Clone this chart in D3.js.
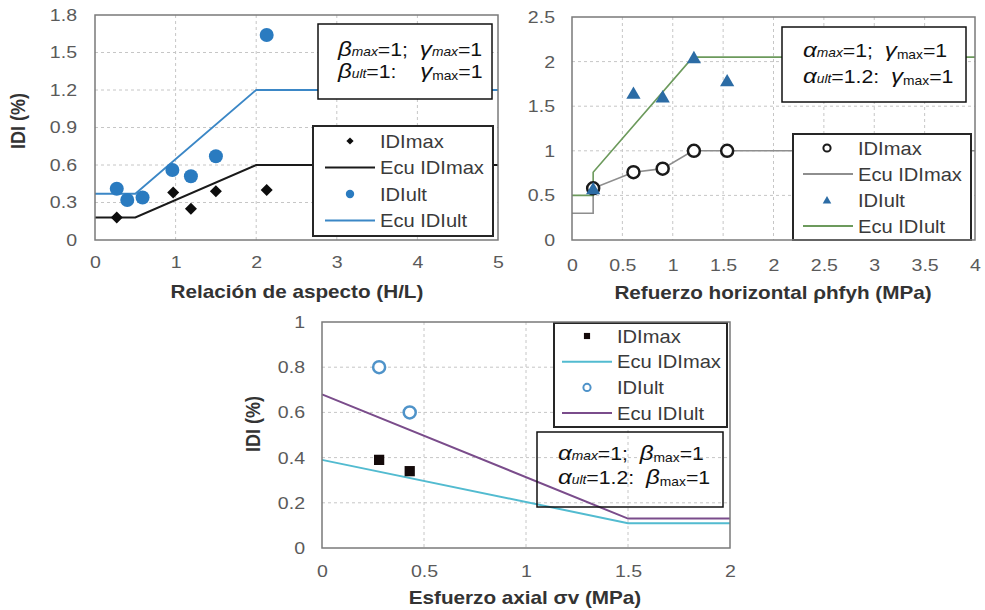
<!DOCTYPE html>
<html>
<head>
<meta charset="utf-8">
<script src="https://cdn.jsdelivr.net/npm/d3@7"></script>
<style>
  body { margin: 0; background: #fff; }
  text { font-family: Arial, "Liberation Sans", sans-serif; }
</style>
</head>
<body>
<svg id="chart"></svg>
<script>
const width = 985;
const height = 610;
const SX = 1.15; // source picture is a bit stretched sideways, so text is too

// --- panel 1: Relación de aspecto (H/L)
const aspXTicks = [0, 1, 2, 3, 4, 5];
const aspYTicks = [0, 0.3, 0.6, 0.9, 1.2, 1.5, 1.8];
const aspMaxX = [0.27, 0.97, 1.19, 1.50, 2.13];
const aspIDImax = [0.18, 0.38, 0.25, 0.39, 0.40];
const aspUltX = [0.27, 0.40, 0.59, 0.96, 1.19, 1.50, 2.13];
const aspIDIult = [0.41, 0.32, 0.34, 0.56, 0.51, 0.67, 1.64];
const aspEcuX = [0, 0.5, 2, 5];
const aspEcuMax = [0.18, 0.18, 0.6, 0.6];
const aspEcuUlt = [0.37, 0.37, 1.2, 1.2];

// --- panel 2: Refuerzo horizontal
const refXTicks = [0, 0.5, 1, 1.5, 2, 2.5, 3, 3.5, 4];
const refYTicks = [0, 0.5, 1, 1.5, 2, 2.5];
const refX = [0.21, 0.61, 0.90, 1.21, 1.54];
const refIDImax = [0.58, 0.76, 0.80, 1.00, 1.00];
const refIDIult = [0.57, 1.64, 1.60, 2.04, 1.78];
const refEcuMaxX = [0, 0.21, 0.21, 0.61, 0.90, 1.2, 4];
const refEcuMax = [0.3, 0.3, 0.58, 0.76, 0.80, 1.0, 1.0];
const refEcuUltX = [0, 0.21, 0.21, 1.2, 4];
const refEcuUlt = [0.5, 0.5, 0.76, 2.05, 2.05];

// --- panel 3: Esfuerzo axial
const axXTicks = [0, 0.5, 1, 1.5, 2];
const axYTicks = [0, 0.2, 0.4, 0.6, 0.8, 1];
const axX = [0.28, 0.43];
const axIDImax = [0.39, 0.34];
const axIDIult = [0.80, 0.60];
const axEcuX = [0, 1.5, 2];
const axEcuMax = [0.39, 0.11, 0.11];
const axEcuUlt = [0.68, 0.13, 0.13];

const legendLabels = ["IDImax", "Ecu IDImax", "IDIult", "Ecu IDIult"];

const svg = d3.select("#chart")
  .attr("width", width)
  .attr("height", height);

svg.append("rect").attr("width", width).attr("height", height).attr("fill", "#fff");

function panel(box, xTicks, yTicks, pad) {
  const x = d3.scaleLinear().domain(d3.extent(xTicks)).range([box.left, box.right]);
  const y = d3.scaleLinear().domain(d3.extent(yTicks)).range([box.bottom, box.top]);
  const g = svg.append("g");

  // dashed grid
  g.selectAll(".gx").data(xTicks.slice(1, -1)).join("line")
    .attr("x1", d => x(d)).attr("x2", d => x(d))
    .attr("y1", box.top).attr("y2", box.bottom)
    .attr("stroke", "#c6c6c6").attr("stroke-dasharray", "3,3");
  g.selectAll(".gy").data(yTicks.slice(1, -1)).join("line")
    .attr("y1", d => y(d)).attr("y2", d => y(d))
    .attr("x1", box.left).attr("x2", box.right)
    .attr("stroke", "#c6c6c6").attr("stroke-dasharray", "3,3");

  // axes (labels only, the frame is drawn later)
  g.append("g")
    .attr("transform", `translate(${box.left},0)`)
    .call(d3.axisLeft(y).tickValues(yTicks).tickSize(0).tickPadding(pad.y / SX).tickFormat(d => d))
    .call(a => a.select(".domain").remove())
    .attr("font-size", 17).attr("font-family", "Arial, 'Liberation Sans', sans-serif")
    .selectAll("text").attr("fill", "#5a5a5a").attr("transform", `scale(${SX},1)`);

  g.append("g")
    .attr("transform", `translate(0,${box.bottom})`)
    .call(d3.axisBottom(x).tickValues(xTicks).tickSize(0).tickPadding(pad.x).tickFormat(d => d))
    .call(a => a.select(".domain").remove())
    .attr("font-size", 17).attr("font-family", "Arial, 'Liberation Sans', sans-serif")
    .selectAll("text").attr("fill", "#5a5a5a").attr("transform", `scale(${SX},1)`);

  return {x, y, g, box};
}

function frame(p) {
  p.g.append("rect")
    .attr("x", p.box.left).attr("y", p.box.top)
    .attr("width", p.box.right - p.box.left).attr("height", p.box.bottom - p.box.top)
    .attr("fill", "none").attr("stroke", "#7a7a7a").attr("stroke-width", 1.5);
}

function curve(p, xs, ys, color, w) {
  p.g.append("path")
    .datum(ys)
    .attr("d", d3.line().x((d, i) => p.x(xs[i])).y(d => p.y(d)))
    .attr("fill", "none").attr("stroke", color).attr("stroke-width", w);
}

function marker(g, m, cx, cy, small) {
  const k = small ? 0.6 : 1;
  if (m.kind === "diamond") {
    g.append("path").attr("d", d3.symbol(d3.symbolSquare, 72 * k * k)())
      .attr("transform", `translate(${cx},${cy}) rotate(45)`).attr("fill", m.color);
  } else if (m.kind === "dot") {
    g.append("circle").attr("cx", cx).attr("cy", cy).attr("r", 7 * k).attr("fill", m.color);
  } else if (m.kind === "ring") {
    g.append("circle").attr("cx", cx).attr("cy", cy).attr("r", 6 * k)
      .attr("fill", "#fff").attr("stroke", m.color).attr("stroke-width", small ? 2 : 2.5);
  } else if (m.kind === "tri") {
    g.append("path").attr("d", d3.symbol(d3.symbolTriangle, 88 * k * k)())
      .attr("transform", `translate(${cx},${cy + 1})`).attr("fill", m.color);
  } else if (m.kind === "square") {
    g.append("path").attr("d", d3.symbol(d3.symbolSquare, 105 * k * k)())
      .attr("transform", `translate(${cx},${cy})`).attr("fill", m.color);
  }
}

function points(p, xs, ys, m) {
  ys.forEach((v, i) => marker(p.g, m, p.x(xs[i]), p.y(v), false));
}

function legend(p, lb, items) {
  p.g.append("rect")
    .attr("x", lb.x0).attr("y", lb.y0).attr("width", lb.x1 - lb.x0).attr("height", lb.y1 - lb.y0)
    .attr("fill", "#fff").attr("stroke", "#262626").attr("stroke-width", 2);
  items.forEach((it, i) => {
    const cy = lb.row0 + i * lb.step;
    if (it.line) {
      p.g.append("line").attr("x1", lb.lx0).attr("x2", lb.lx1).attr("y1", cy).attr("y2", cy)
        .attr("stroke", it.line).attr("stroke-width", 2);
    } else {
      marker(p.g, it.marker, lb.mx, cy, true);
    }
    p.g.append("text")
      .attr("transform", `translate(${lb.tx},${cy + 6.5}) scale(${SX},1)`)
      .attr("font-size", 17.5).attr("fill", "#3a3a3a")
      .text(legendLabels[i]);
  });
}

// rich text: g = greek italic, si = small italic index, sn = small lowered index, n = normal
function note(p, nb, lines) {
  p.g.append("rect")
    .attr("x", nb.x0).attr("y", nb.y0).attr("width", nb.x1 - nb.x0).attr("height", nb.y1 - nb.y0)
    .attr("fill", nb.fill).attr("stroke", "#111").attr("stroke-width", 1.5);
  lines.forEach((parts, li) => {
    const t = p.g.append("text")
      .attr("transform", `translate(${nb.tx},${nb.base[li]}) scale(${SX},1)`)
      .style("white-space", "pre").attr("fill", "#111");
    let drop = 0;
    parts.forEach(([s, st]) => {
      const ts = t.append("tspan").text(s);
      let dy = 0;
      if (st === "g") { ts.attr("font-size", 21).attr("font-style", "italic"); dy = -drop; drop = 0; }
      else if (st === "si") { ts.attr("font-size", 12).attr("font-style", "italic"); }
      else if (st === "sn") { ts.attr("font-size", 12); dy = 2; drop = 2; }
      else { ts.attr("font-size", 18.5); dy = -drop; drop = 0; }
      if (dy) ts.attr("dy", dy);
    });
  });
}

function axisTitle(p, x, y, s, rotate) {
  p.g.append("text")
    .attr("transform", rotate
      ? `translate(${x},${y}) rotate(-90) scale(1,${SX})`
      : `translate(${x},${y}) scale(${SX},1)`)
    .attr("text-anchor", "middle").attr("font-weight", "bold")
    .attr("font-size", 18).attr("fill", "#333")
    .text(s);
}

// ---------------- panel 1
const p1 = panel({left: 95, right: 498, top: 15, bottom: 240}, aspXTicks, aspYTicks, {x: 16, y: 18});
curve(p1, aspEcuX, aspEcuMax, "#1a1a1a", 2);
curve(p1, aspEcuX, aspEcuUlt, "#3b87c6", 1.8);
points(p1, aspMaxX, aspIDImax, {kind: "diamond", color: "#0d0d0d"});
points(p1, aspUltX, aspIDIult, {kind: "dot", color: "#2a7bc0"});
note(p1, {x0: 318, y0: 24, x1: 492, y1: 99, fill: "#fff", tx: 338, base: [56, 78]}, [
  [["β", "g"], ["max", "si"], ["=1;  ", "n"], ["γ", "g"], ["max", "si"], ["=1", "n"]],
  [["β", "g"], ["ult", "si"], ["=1:    ", "n"], ["γ", "g"], ["max", "sn"], ["=1", "n"]]
]);
legend(p1, {x0: 313, y0: 126, x1: 493, y1: 236, row0: 141, step: 26.5, mx: 350, lx0: 325, lx1: 375, tx: 380}, [
  {marker: {kind: "diamond", color: "#0d0d0d"}}, {line: "#1a1a1a"},
  {marker: {kind: "dot", color: "#2a7bc0"}}, {line: "#3b87c6"}
]);
frame(p1);
axisTitle(p1, 297, 298, "Relación de aspecto (H/L)");
axisTitle(p1, 25, 121, "IDI (%)", true);

// ---------------- panel 2
const p2 = panel({left: 572, right: 975, top: 17, bottom: 240}, refXTicks, refYTicks, {x: 19, y: 17});
curve(p2, refEcuMaxX, refEcuMax, "#8e8e8e", 1.6);
curve(p2, refEcuUltX, refEcuUlt, "#6c9a5c", 1.6);
points(p2, refX, refIDImax, {kind: "ring", color: "#1a1a1a"});
points(p2, refX, refIDIult, {kind: "tri", color: "#2c6ca5"});
note(p2, {x0: 782, y0: 27, x1: 966, y1: 102, fill: "#fff", tx: 803, base: [57, 83]}, [
  [["α", "g"], ["max", "si"], ["=1;  ", "n"], ["γ", "g"], ["max", "sn"], ["=1", "n"]],
  [["α", "g"], ["ult", "si"], ["=1.2:  ", "n"], ["γ", "g"], ["max", "sn"], ["=1", "n"]]
]);
legend(p2, {x0: 793, y0: 134, x1: 971, y1: 240, row0: 148, step: 26, mx: 827, lx0: 803, lx1: 853, tx: 858}, [
  {marker: {kind: "ring", color: "#1a1a1a"}}, {line: "#8e8e8e"},
  {marker: {kind: "tri", color: "#2c6ca5"}}, {line: "#6c9a5c"}
]);
frame(p2);
axisTitle(p2, 773, 299, "Refuerzo horizontal ρhfyh (MPa)");

// ---------------- panel 3
const p3 = panel({left: 322, right: 730, top: 322, bottom: 548}, axXTicks, axYTicks, {x: 17, y: 17});
curve(p3, axEcuX, axEcuMax, "#52bbd0", 2);
curve(p3, axEcuX, axEcuUlt, "#7a4c8b", 2);
points(p3, axX, axIDImax, {kind: "square", color: "#140a0a"});
points(p3, axX, axIDIult, {kind: "ring", color: "#4f93c9"});
note(p3, {x0: 537, y0: 432, x1: 723, y1: 507, fill: "none", tx: 558, base: [460, 484]}, [
  [["α", "g"], ["max", "si"], ["=1;  ", "n"], ["β", "g"], ["max", "sn"], ["=1", "n"]],
  [["α", "g"], ["ult", "si"], ["=1.2:  ", "n"], ["β", "g"], ["max", "sn"], ["=1", "n"]]
]);
legend(p3, {x0: 554, y0: 323, x1: 727, y1: 427, row0: 336, step: 25.7, mx: 587, lx0: 562, lx1: 612, tx: 617}, [
  {marker: {kind: "square", color: "#140a0a"}}, {line: "#52bbd0"},
  {marker: {kind: "ring", color: "#4f93c9"}}, {line: "#7a4c8b"}
]);
frame(p3);
axisTitle(p3, 525, 604, "Esfuerzo axial σv (MPa)");
axisTitle(p3, 260, 424, "IDI (%)", true);
</script>
</body>
</html>
